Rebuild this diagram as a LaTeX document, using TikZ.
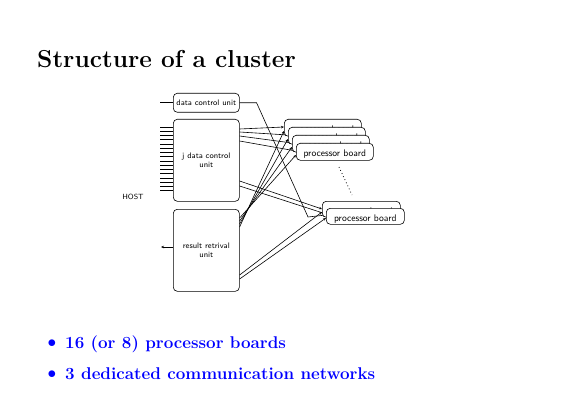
\documentclass[tikz,border=0pt]{standalone}
\usetikzlibrary{arrows.meta,calc}
\begin{document}
\begin{tikzpicture}[x=1pt,y=-1pt,
  unit/.style={draw, rounded corners=4pt, fill=white, inner sep=0pt, anchor=north west,
    font=\sffamily\fontsize{8}{9.5}\selectfont, align=center, line width=0.6pt},
  board/.style={unit, font=\sffamily\fontsize{9.6}{10}\selectfont, minimum width=77pt, minimum height=17pt,
    text height=9pt, text depth=0pt},
  lboard/.style={board, minimum width=78pt, minimum height=16pt, text height=10pt},
  wire/.style={line width=0.6pt},
  >={Stealth[length=3pt,width=2.5pt]}]
\useasboundingbox (0,0) rectangle (585,414);

\node[anchor=base west, inner sep=0pt] (title) at (37,68) {\fontsize{24.5}{29}\selectfont\bfseries Structure of a cluster};

% units
\node[unit, minimum width=66pt, minimum height=19pt] (dcu) at (173,93) {data control unit};
\node[unit, minimum width=66pt, minimum height=82pt] (jd) at (173,119) {j data control\\unit};
\node[unit, minimum width=66pt, minimum height=82pt] (rr) at (173,209) {result retrival\\unit};
\node[font=\sffamily\fontsize{7.5}{8}\selectfont, inner sep=0pt] (host) at (133,197) {HOST};

% host input lines
\foreach \i in {0,...,15}
  \draw[wire] ($(jd.north west)+(0,8+\i*4.25)$) -- ++(-13,0);
\draw[wire] (dcu.west) -- ++(-13,0);
\draw[wire,->] ($(rr.north west)+(0,38)$) -- ++(-12,0);

% coordinates on board edges
\coordinate (b1a) at (284,127); \coordinate (b2a) at (288,135);
\coordinate (b3a) at (292,143); \coordinate (b4a) at (296,151);
\coordinate (b1b) at (284,131); \coordinate (b2b) at (288,139);
\coordinate (b3b) at (292,147); \coordinate (b4b) at (296,155);

% jd -> top boards
\draw[wire,->] ($(jd.north east)+(0,10)$) -- (b1a);
\draw[wire,->] ($(jd.north east)+(0,13)$) -- (b2a);
\draw[wire,->] ($(jd.north east)+(0,17)$) -- (b3a);
\draw[wire,->] ($(jd.north east)+(0,22)$) -- (b4a);
% rr -> top boards
\draw[wire,->] ($(rr.north east)+(0,18)$) -- (b1b);
\draw[wire,->] ($(rr.north east)+(0,15)$) -- (b2b);
\draw[wire,->] ($(rr.north east)+(0,12)$) -- (b3b);
\draw[wire,->] ($(rr.north east)+(0,9)$) -- (b4b);
% jd -> lower boards
\draw[wire,->] ($(jd.north east)+(0,62)$) -- (322,209);
\draw[wire,->] ($(jd.north east)+(0,67)$) -- (326,214);
% rr -> lower boards
\draw[wire,->] ($(rr.north east)+(0,66)$) -- (322,212);
\draw[wire,->] ($(rr.north east)+(0,70)$) -- (326,218);
% dcu -> lower boards
\draw[wire,->] (dcu.east) -- ++(17,0) -- (308,217) -- (326,215);

% top boards
\node[board] (b1) at (284,119) {processor board};
\node[board] (b2) at (288,127) {processor board};
\node[board] (b3) at (292,135) {processor board};
\node[board] (b4) at (296,143) {processor board};
% lower boards
\node[lboard] (c1) at (322,201) {processor board};
\node[lboard] (c2) at (326,208) {processor board};

\draw[line width=0.8pt, dash pattern=on 0.8pt off 2.6pt] (339,167) -- (352,195);

% bullets
\begin{scope}[blue, every node/.style={inner sep=0pt}]
\node (bul1) at (52,344) {\fontsize{17}{20}\selectfont$\bullet$};
\node[anchor=base west] (t1) at (65,348) {\fontsize{17}{20}\selectfont\bfseries 16 (or 8) processor boards};
\node (bul2) at (52,375) {\fontsize{17}{20}\selectfont$\bullet$};
\node[anchor=base west] (t2) at (65,379) {\fontsize{17}{20}\selectfont\bfseries 3 dedicated communication networks};
\end{scope}
\end{tikzpicture}
\end{document}
